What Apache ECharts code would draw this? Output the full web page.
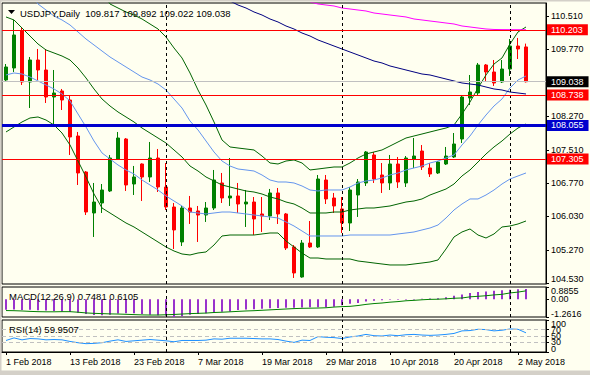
<!DOCTYPE html>
<html><head><meta charset="utf-8">
<script src="https://cdn.jsdelivr.net/npm/echarts@6/dist/echarts.min.js"></script>
<style>html,body{margin:0;padding:0;background:#FFFFF0;}#c{width:590px;height:375px;}</style>
</head><body><div id="c"></div>
<script>
const symbol = 'USDJPY', timeframe = 'Daily';
const dates = ['1 Feb 2018','2 Feb 2018','5 Feb 2018','6 Feb 2018','7 Feb 2018','8 Feb 2018','9 Feb 2018','12 Feb 2018','13 Feb 2018','14 Feb 2018','15 Feb 2018','16 Feb 2018','19 Feb 2018','20 Feb 2018','21 Feb 2018','22 Feb 2018','23 Feb 2018','26 Feb 2018','27 Feb 2018','28 Feb 2018','1 Mar 2018','2 Mar 2018','5 Mar 2018','6 Mar 2018','7 Mar 2018','8 Mar 2018','9 Mar 2018','12 Mar 2018','13 Mar 2018','14 Mar 2018','15 Mar 2018','16 Mar 2018','19 Mar 2018','20 Mar 2018','21 Mar 2018','22 Mar 2018','23 Mar 2018','26 Mar 2018','27 Mar 2018','28 Mar 2018','29 Mar 2018','30 Mar 2018','2 Apr 2018','3 Apr 2018','4 Apr 2018','5 Apr 2018','6 Apr 2018','9 Apr 2018','10 Apr 2018','11 Apr 2018','12 Apr 2018','13 Apr 2018','16 Apr 2018','17 Apr 2018','18 Apr 2018','19 Apr 2018','20 Apr 2018','23 Apr 2018','24 Apr 2018','25 Apr 2018','26 Apr 2018','27 Apr 2018','30 Apr 2018','1 May 2018','2 May 2018','3 May 2018','4 May 2018','7 May 2018'];
const opens  = [109.077,109.346,110.174,109.032,109.525,109.301,108.696,108.831,108.629,107.823,107.017,106.099,106.323,106.592,107.308,107.756,106.748,107.196,106.905,107.330,106.681,106.233,105.450,106.211,106.144,106.054,106.211,106.771,106.435,106.480,106.300,106.345,106.077,106.032,106.547,106.077,105.338,104.666,105.427,105.338,106.838,106.435,106.189,105.875,106.502,106.771,107.398,106.950,106.771,107.196,106.771,107.308,107.487,107.107,106.995,107.196,107.353,107.756,108.674,108.786,109.413,109.256,109.032,109.323,109.838,109.817];
const highs  = [109.435,110.420,110.264,109.592,109.771,109.771,109.301,108.876,108.741,107.913,107.039,106.771,106.748,107.398,107.913,107.778,107.152,107.210,107.689,107.532,107.218,106.323,106.256,106.480,106.256,106.345,107.062,106.995,107.330,106.771,106.614,106.457,106.457,106.637,106.659,106.099,105.382,105.494,105.920,106.950,106.950,106.547,106.457,106.681,106.860,107.487,107.465,107.218,107.398,107.353,107.375,107.778,107.621,107.218,107.263,107.577,107.890,108.741,109.189,109.458,109.435,109.525,109.525,109.995,110.018,109.892];
const lows   = [109.032,109.256,108.965,108.450,109.077,108.562,108.069,108.405,107.398,106.726,106.054,105.562,106.099,106.569,107.286,106.592,106.502,106.368,106.793,106.569,106.166,105.293,105.360,105.853,105.450,105.898,106.166,106.323,106.256,106.099,105.786,105.607,105.674,105.942,105.853,105.270,104.644,104.650,105.316,105.316,106.300,106.099,105.651,105.696,106.010,106.704,106.771,106.547,106.614,106.659,106.681,107.107,107.062,106.905,106.972,107.174,107.330,107.666,108.517,108.741,109.032,108.943,109.010,109.167,109.547,109.022];
const closes = [109.368,110.085,109.032,109.525,109.301,108.696,108.786,108.629,107.801,106.995,106.121,106.345,106.614,107.330,107.778,106.726,106.905,106.905,107.330,106.681,106.233,105.719,106.211,106.121,106.054,106.211,106.838,106.435,106.480,106.300,106.345,105.965,106.032,106.547,106.077,105.315,104.756,105.427,105.338,106.860,106.413,106.256,105.875,106.614,106.793,107.465,106.860,106.771,107.196,106.793,107.330,107.375,107.129,106.972,107.241,107.375,107.644,108.696,108.808,109.413,109.256,109.010,109.323,109.838,109.771,109.038];
const bbUpper2 = [null,null,null,null,null,null,null,null,null,null,null,null,111.047,110.779,110.689,110.600,110.532,110.443,110.331,110.219,110.040,109.794,109.570,109.234,108.853,108.517,108.137,107.734,107.577,107.554,107.532,107.510,107.375,107.219,107.196,107.263,107.286,107.219,107.062,107.084,107.107,107.129,107.129,107.219,107.331,107.420,107.465,107.510,107.599,107.689,107.778,107.823,107.868,107.913,107.958,108.002,108.069,108.316,108.584,108.898,109.189,109.435,109.570,109.883,110.152,110.264];
const bbMiddle = [110.488,110.421,110.241,110.062,109.883,109.749,109.682,109.614,109.525,109.346,109.122,108.876,108.652,108.495,108.361,108.249,108.137,108.002,107.890,107.778,107.666,107.510,107.353,107.151,107.039,106.905,106.816,106.726,106.681,106.636,106.592,106.569,106.524,106.457,106.413,106.345,106.301,106.211,106.099,106.099,106.099,106.121,106.121,106.166,106.189,106.211,106.211,106.233,106.256,106.301,106.345,106.368,106.413,106.502,106.569,106.636,106.748,106.928,107.062,107.241,107.420,107.577,107.711,107.868,108.002,108.092];
const bbLower2 = [107.913,108.025,108.137,108.226,108.249,108.181,108.069,107.890,107.622,107.263,106.905,106.524,106.211,106.099,105.987,105.875,105.786,105.674,105.562,105.450,105.338,105.248,105.181,105.159,105.203,105.226,105.382,105.584,105.606,105.606,105.606,105.606,105.629,105.651,105.651,105.472,105.338,105.203,105.091,105.091,105.069,105.069,105.069,105.069,105.024,105.002,104.979,104.957,104.935,104.935,104.935,104.957,104.979,105.002,105.047,105.293,105.562,105.674,105.741,105.606,105.539,105.629,105.786,105.808,105.853,105.920];
const bbUpper1 = [null,null,null,111.003,110.779,110.644,110.510,110.421,110.309,110.152,109.995,109.861,109.726,109.592,109.480,109.368,109.256,109.144,109.077,108.987,108.853,108.652,108.450,108.159,107.958,107.711,107.465,107.263,107.151,107.084,107.062,107.039,106.950,106.838,106.793,106.793,106.771,106.704,106.614,106.592,106.614,106.614,106.614,106.681,106.771,106.816,106.838,106.883,106.950,106.995,107.062,107.107,107.151,107.219,107.263,107.331,107.398,107.622,107.823,108.069,108.293,108.495,108.652,108.898,109.077,109.167];
const bbLower1 = [109.189,109.234,109.211,109.144,109.055,108.965,108.876,108.764,108.607,108.316,108.025,107.711,107.443,107.308,107.174,107.062,106.972,106.838,106.726,106.614,106.480,106.368,106.256,106.121,106.099,106.077,106.099,106.121,106.121,106.099,106.077,106.054,106.032,106.009,105.987,105.898,105.808,105.696,105.584,105.584,105.584,105.584,105.584,105.606,105.606,105.606,105.606,105.606,105.606,105.629,105.651,105.674,105.719,105.763,105.830,105.987,106.166,106.301,106.413,106.413,106.502,106.614,106.748,106.860,106.928,106.995];
const maNavy = [null,null,null,null,null,null,null,null,null,null,null,null,null,null,null,null,null,null,null,null,null,null,null,null,null,null,null,null,110.846,110.756,110.689,110.600,110.532,110.443,110.376,110.286,110.219,110.129,110.062,109.973,109.906,109.838,109.771,109.704,109.637,109.570,109.502,109.458,109.391,109.346,109.301,109.256,109.211,109.189,109.144,109.099,109.055,109.010,108.987,108.965,108.920,108.876,108.853,108.808,108.786,108.764];
const maMagenta = [null,null,null,null,null,null,null,null,null,null,null,null,null,null,null,null,null,null,null,null,null,null,null,null,null,null,null,null,null,null,null,null,null,null,null,null,null,null,110.824,110.779,110.756,110.734,110.689,110.667,110.644,110.622,110.577,110.555,110.532,110.510,110.488,110.443,110.421,110.398,110.376,110.353,110.331,110.286,110.264,110.241,110.219,110.208,110.205,110.204,110.203,110.203];
const macdMain = [-0.74,-0.73,-0.76,-0.75,-0.77,-0.80,-0.84,-0.87,-0.90,-0.96,-1.05,-1.11,-1.13,-1.10,-1.02,-1.00,-0.99,-1.04,-1.10,-1.14,-1.18,-1.2616,-1.20,-1.10,-1.04,-0.99,-0.92,-0.89,-0.86,-0.76,-0.72,-0.70,-0.68,-0.64,-0.61,-0.60,-0.60,-0.58,-0.57,-0.57,-0.56,-0.53,-0.42,-0.32,-0.26,-0.16,-0.10,-0.06,-0.03,-0.01,0.01,0.03,0.05,0.06,0.08,0.16,0.26,0.34,0.45,0.52,0.56,0.62,0.65,0.68,0.72,0.7481];
const macdSignal = [-0.80,-0.81,-0.83,-0.86,-0.88,-0.89,-0.89,-0.88,-0.88,-0.92,-0.97,-1.00,-1.02,-1.04,-1.05,-1.07,-1.09,-1.11,-1.12,-1.12,-1.10,-1.08,-1.05,-1.02,-1.00,-0.98,-0.94,-0.92,-0.89,-0.86,-0.83,-0.81,-0.78,-0.75,-0.72,-0.69,-0.66,-0.64,-0.63,-0.62,-0.60,-0.55,-0.52,-0.50,-0.44,-0.36,-0.30,-0.26,-0.20,-0.16,-0.10,-0.07,-0.03,0.00,0.01,0.04,0.08,0.10,0.18,0.22,0.26,0.32,0.36,0.46,0.52,0.6105];
const rsi = [36,44,38,42,41,38,39,38,33,29,26,27,29,34,38,33,35,37,39,37,35,32,36,36,36,37,41,40,43,43,43,42,41,41,39,34,30,37,36,48,46,45,42,47,50,55,51,50,53,51,54,55,53,52,53,55,58,66,67,71,70,66,68,72,71,59.9507];
const priceTicks = [104.53,105.27,106.03,106.77,107.51,108.27,109.77,110.51];
const macdTicks = [-1.2616,0,0.8855];
const rsiTicks = [0,100];
const rsiLevels = [70,50,30];
const separators = ['1 Mar 2018','2 Apr 2018','1 May 2018'];
const redLevels = [110.203,108.738,107.305];
const blueLevel = 108.055;
const currentPrice = 109.038;

const FONT = 'Liberation Sans';
const last = opens.length - 1;
const chart = echarts.init(document.getElementById('c'), null, {renderer: 'svg'});

function sepLines() {
  return separators.map(d => ({xAxis: d, lineStyle: {color: '#000', type: [3, 3], width: 1}, label: {show: false}}));
}
function priceLabel(bg) {
  return {show: true, position: 'end', distance: 1, formatter: '{b}',
    backgroundColor: bg, color: '#fff', fontSize: 9, fontFamily: FONT, lineHeight: 10, padding: [1, 5, 0, 4]};
}
const hLines = [
  ...redLevels.map(v => ({name: v.toFixed(3), yAxis: v, lineStyle: {color: '#FF0000', width: 1, type: 'solid'}, label: priceLabel('#FF0000')})),
  {name: blueLevel.toFixed(3), yAxis: blueLevel, lineStyle: {color: '#0000CD', width: 3, type: 'solid'}, label: priceLabel('#0000CD')},
  {name: currentPrice.toFixed(3), yAxis: currentPrice, lineStyle: {color: '#C0C0C0', width: 1, type: 'solid'}, label: priceLabel('#000000')}
];
const rsiLevelLines = rsiLevels.map(v => ({name: String(v), yAxis: v,
  lineStyle: {color: '#C0C0C0', type: [4, 3], width: 1},
  label: {show: true, position: 'end', distance: 5, formatter: '{b}', color: '#000', fontSize: 9, fontFamily: FONT, lineHeight: 9}}));

function lineS(data, color, z) {
  return {type: 'line', xAxisIndex: 0, yAxisIndex: 0, data, showSymbol: false, symbol: 'none', silent: true,
    lineStyle: {color, width: 1}, z: z || 3, connectNulls: false};
}
const xBase = {type: 'category', data: dates, boundaryGap: true};
const axLabel = {fontSize: 9, fontFamily: FONT, color: '#000'};

chart.setOption({
  animation: false,
  backgroundColor: '#FFFFF0',
  grid: [
    {left: 2, top: 3, width: 544, height: 281, show: true, borderColor: '#000', borderWidth: 1},
    {left: 2, top: 287, width: 544, height: 30, show: true, borderColor: '#000', borderWidth: 1},
    {left: 2, top: 320, width: 544, height: 32, show: true, borderColor: '#000', borderWidth: 1}
  ],
  xAxis: [
    Object.assign({}, xBase, {gridIndex: 0, axisLine: {show: false}, axisTick: {show: false}, axisLabel: {show: false}}),
    Object.assign({}, xBase, {gridIndex: 1, axisLine: {show: false}, axisTick: {show: false}, axisLabel: {show: false}}),
    Object.assign({}, xBase, {gridIndex: 2, axisLine: {show: true, lineStyle: {color: '#000'}},
      axisTick: {show: true, interval: 7, alignWithLabel: true, length: 3, lineStyle: {color: '#000'}},
      axisLabel: Object.assign({interval: 7, align: 'left', margin: 5}, axLabel)})
  ],
  yAxis: [
    {type: 'value', gridIndex: 0, position: 'right', min: 104.509, max: 110.801, splitLine: {show: false},
      axisLine: {show: true, lineStyle: {color: '#000'}},
      axisTick: {show: true, length: 3, customValues: priceTicks, lineStyle: {color: '#000'}},
      axisLabel: Object.assign({customValues: priceTicks, margin: 5, showMinLabel: true, showMaxLabel: true,
        verticalAlignMinLabel: 'bottom', formatter: v => Number(v).toFixed(3)}, axLabel)},
    {type: 'value', gridIndex: 1, position: 'right', min: -1.2616, max: 0.8855, splitLine: {show: false},
      axisLine: {show: true, lineStyle: {color: '#000'}},
      axisTick: {show: true, length: 3, customValues: macdTicks, lineStyle: {color: '#000'}},
      axisLabel: Object.assign({customValues: macdTicks, margin: 5, showMinLabel: true, showMaxLabel: true, hideOverlap: false,
        verticalAlignMaxLabel: 'top', verticalAlignMinLabel: 'bottom',
        formatter: v => (Number(v) === 0 ? '0.00' : Number(v).toFixed(4))}, axLabel, {lineHeight: 7})},
    {type: 'value', gridIndex: 2, position: 'right', min: 0, max: 100, splitLine: {show: false},
      axisLine: {show: true, lineStyle: {color: '#000'}},
      axisTick: {show: true, length: 3, customValues: rsiTicks.concat(rsiLevels), lineStyle: {color: '#000'}},
      axisLabel: Object.assign({customValues: rsiTicks, margin: 5, showMinLabel: true, showMaxLabel: true, hideOverlap: false,
        verticalAlignMaxLabel: 'top', verticalAlignMinLabel: 'bottom',
        formatter: v => String(v)}, axLabel, {lineHeight: 7})}
  ],
  series: [
    {type: 'candlestick', xAxisIndex: 0, yAxisIndex: 0, barWidth: 4, z: 2, silent: true,
      data: opens.map((o, i) => [o, closes[i], lows[i], highs[i]]),
      itemStyle: {color: '#008000', color0: '#FF0000', borderColor: '#008000', borderColor0: '#FF0000', borderWidth: 1},
      markLine: {symbol: ['none', 'none'], silent: true, data: sepLines()}},
    lineS(bbUpper2, '#006400'),
    lineS(bbMiddle, '#006400'),
    lineS(bbLower2, '#006400'),
    lineS(bbUpper1, '#6495ED'),
    lineS(bbLower1, '#6495ED'),
    lineS(maNavy, '#000080'),
    lineS(maMagenta, '#FF00FF'),
    {type: 'line', xAxisIndex: 0, yAxisIndex: 0, data: closes, showSymbol: false, symbol: 'none', silent: true,
      lineStyle: {opacity: 0, width: 0}, z: 4,
      markLine: {symbol: ['none', 'none'], silent: true, data: hLines}},
    {type: 'custom', xAxisIndex: 1, yAxisIndex: 1, silent: true, z: 2,
      data: macdMain.map((v, i) => [i, v]),
      encode: {x: 0, y: 1},
      renderItem: function (params, api) {
        const p0 = api.coord([api.value(0), 0]);
        const p1 = api.coord([api.value(0), api.value(1)]);
        const top = Math.min(p0[1], p1[1]);
        const h = Math.max(0.5, Math.abs(p1[1] - p0[1]));
        return {type: 'rect', shape: {x: p0[0] - 1, y: top, width: 2, height: h}, style: {fill: '#9932CC'}};
      }},
    {type: 'line', xAxisIndex: 1, yAxisIndex: 1, data: macdSignal, showSymbol: false, symbol: 'none', silent: true, z: 3,
      lineStyle: {color: '#008000', width: 1},
      markLine: {symbol: ['none', 'none'], silent: true, data: sepLines()}},
    {type: 'line', xAxisIndex: 2, yAxisIndex: 2, data: rsi, showSymbol: false, symbol: 'none', silent: true, z: 3,
      lineStyle: {color: '#1E90FF', width: 1},
      markLine: {symbol: ['none', 'none'], silent: true, data: sepLines().concat(rsiLevelLines)}}
  ],
  graphic: [
    {type: 'rect', shape: {x: 0, y: 0, width: 1.5, height: 375}, style: {fill: '#D4D0C8'}, silent: true},
    {type: 'rect', shape: {x: 0, y: 0, width: 590, height: 1.5}, style: {fill: '#D4D0C8'}, silent: true},
    {type: 'rect', shape: {x: 0, y: 370.5, width: 590, height: 4.5}, style: {fill: '#D4D0C8'}, silent: true},
    {type: 'polygon', shape: {points: [[8, 10], [15, 10], [11.5, 14]]}, style: {fill: '#000'}, silent: true, z: 10},
    {type: 'text', x: 20, y: 13, z: 10, silent: true, style: {text: symbol + ',' + timeframe + '  ' + opens[last].toFixed(3) + ' ' + highs[last].toFixed(3) + ' ' + lows[last].toFixed(3) + ' ' + closes[last].toFixed(3),
      font: '9.5px "Liberation Sans"', fill: '#000', verticalAlign: 'middle'}},
    {type: 'text', x: 9, y: 296, z: 10, silent: true, style: {text: 'MACD(12,26,9) ' + macdMain[last].toFixed(4) + ' ' + macdSignal[last].toFixed(4),
      font: '9.5px "Liberation Sans"', fill: '#000', verticalAlign: 'middle'}},
    {type: 'text', x: 9, y: 329.5, z: 10, silent: true, style: {text: 'RSI(14) ' + rsi[last].toFixed(4),
      font: '9.5px "Liberation Sans"', fill: '#000', verticalAlign: 'middle'}}
  ]
});
</script></body></html>
